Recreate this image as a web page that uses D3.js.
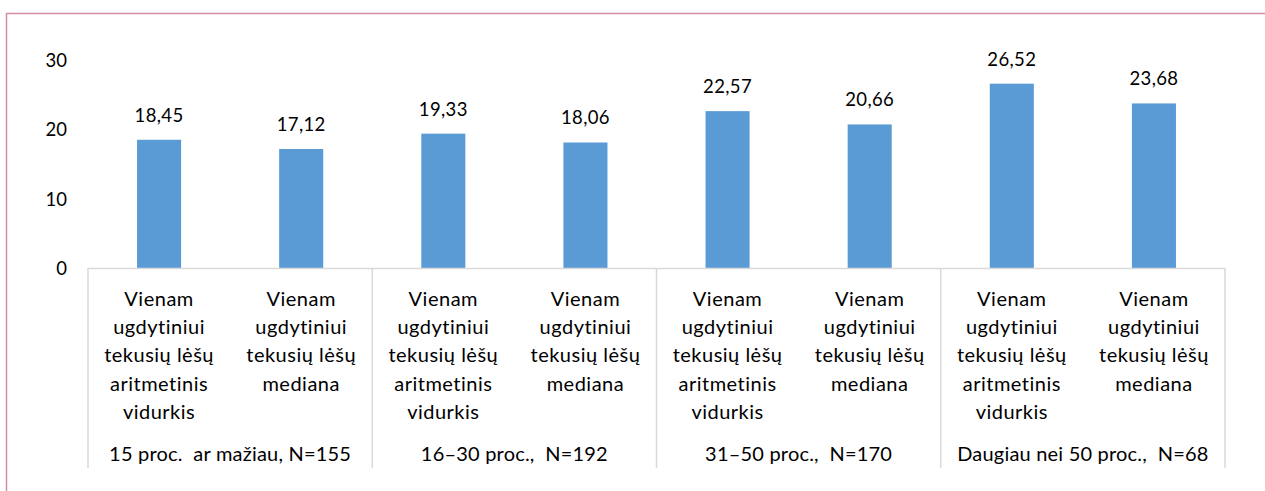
<!DOCTYPE html>
<html>
<head>
<meta charset="utf-8">
<script src="https://cdn.jsdelivr.net/npm/d3@7/dist/d3.min.js"></script>
<style>
  html, body { margin: 0; padding: 0; background: #fff; }
  svg { display: block; font-family: Lato, "Open Sans", sans-serif; }
</style>
</head>
<body>
<svg id="chart" width="1265" height="491"></svg>
<script>
// Groups (share of pupils) and the two measures shown for each
const groups = ["15 proc.  ar mažiau, N=155", "16–30 proc.,  N=192", "31–50 proc.,  N=170", "Daugiau nei 50 proc.,  N=68"];
const measures = ["mean", "median"];
const measureLabels = [
  ["Vienam", "ugdytiniui", "tekusių lėšų", "aritmetinis", "vidurkis"],
  ["Vienam", "ugdytiniui", "tekusių lėšų", "mediana"]
];
const meanValues = [18.45, 19.33, 22.57, 26.52];
const medianValues = [17.12, 18.06, 20.66, 23.68];
const yTicks = [0, 10, 20, 30];

const svg = d3.select("#chart");
const W = 1265, H = 491;
const numSize = 18.5, labelSize = 20;

// outer frame
svg.append("rect").attr("x", 6.5).attr("y", 13.5).attr("width", W + 10).attr("height", H + 10)
  .attr("fill", "none").attr("stroke", "#d48ea4").attr("stroke-width", 1.5);

const plotLeft = 88, plotRight = 1225, plotBase = 268, plotTop = 59.5;
const y = d3.scaleLinear().domain([0, 30]).range([plotBase, plotTop]);
const xg = d3.scaleBand().domain(d3.range(groups.length)).range([plotLeft, plotRight]);
const xm = d3.scaleBand().domain(measures).range([0, xg.bandwidth()]).paddingInner(0.69).paddingOuter(0.345);

const rows = [];
groups.forEach((g, i) => {
  rows.push({ g: i, m: "mean", v: meanValues[i] });
  rows.push({ g: i, m: "median", v: medianValues[i] });
});

// y axis labels (no line, no gridlines)
const yAxis = d3.axisLeft(y).tickValues(yTicks).tickSize(0).tickPadding(0).tickFormat(d3.format("d"));
const ya = svg.append("g").attr("transform", `translate(67,1)`).call(yAxis);
ya.select(".domain").remove();
ya.selectAll("text").attr("font-size", numSize).attr("fill", "#000").attr("font-family", "Lato, sans-serif");

// bars
svg.append("g").selectAll("rect").data(rows).join("rect")
  .attr("x", d => xg(d.g) + xm(d.m))
  .attr("width", xm.bandwidth())
  .attr("y", d => y(d.v))
  .attr("height", d => y(0) - y(d.v))
  .attr("fill", "#5b9bd5");

// value labels
const fmt = v => v.toFixed(2).replace(".", ",");
svg.append("g").selectAll("text").data(rows).join("text")
  .attr("x", d => xg(d.g) + xm(d.m) + xm.bandwidth() / 2)
  .attr("y", d => y(d.v) - 18)
  .attr("text-anchor", "middle")
  .attr("font-size", numSize)
  .attr("letter-spacing", 0.4)
  .text(d => fmt(d.v));

// category axis: baseline and group separators
const axisColor = "#d9d9d9";
svg.append("line").attr("x1", plotLeft).attr("x2", plotRight).attr("y1", plotBase + 0.5).attr("y2", plotBase + 0.5)
  .attr("stroke", axisColor).attr("stroke-width", 1.5);
const seps = d3.range(groups.length + 1).map(i => i < groups.length ? xg(i) : plotRight);
svg.append("g").selectAll("line").data(seps).join("line")
  .attr("x1", d => d).attr("x2", d => d)
  .attr("y1", plotBase).attr("y2", 468)
  .attr("stroke", axisColor).attr("stroke-width", 1.5);

// measure labels, multi-line
const lab = svg.append("g");
rows.forEach(d => {
  const cx = xg(d.g) + xm(d.m) + xm.bandwidth() / 2;
  const lines = measureLabels[measures.indexOf(d.m)];
  const t = lab.append("text").attr("text-anchor", "middle").attr("font-size", labelSize)
    .attr("letter-spacing", 0.5);
  lines.forEach((l, k) => {
    t.append("tspan").attr("x", cx).attr("y", 306 + k * 28.2).text(l);
  });
});

// group labels
svg.append("g").selectAll("text").data(groups).join("text")
  .attr("x", (d, i) => xg(i) + xg.bandwidth() / 2)
  .attr("y", 461)
  .attr("text-anchor", "middle")
  .attr("font-size", labelSize)
  .attr("letter-spacing", 0.2)
  .attr("xml:space", "preserve")
  .style("white-space", "pre")
  .text(d => d);
</script>
</body>
</html>
